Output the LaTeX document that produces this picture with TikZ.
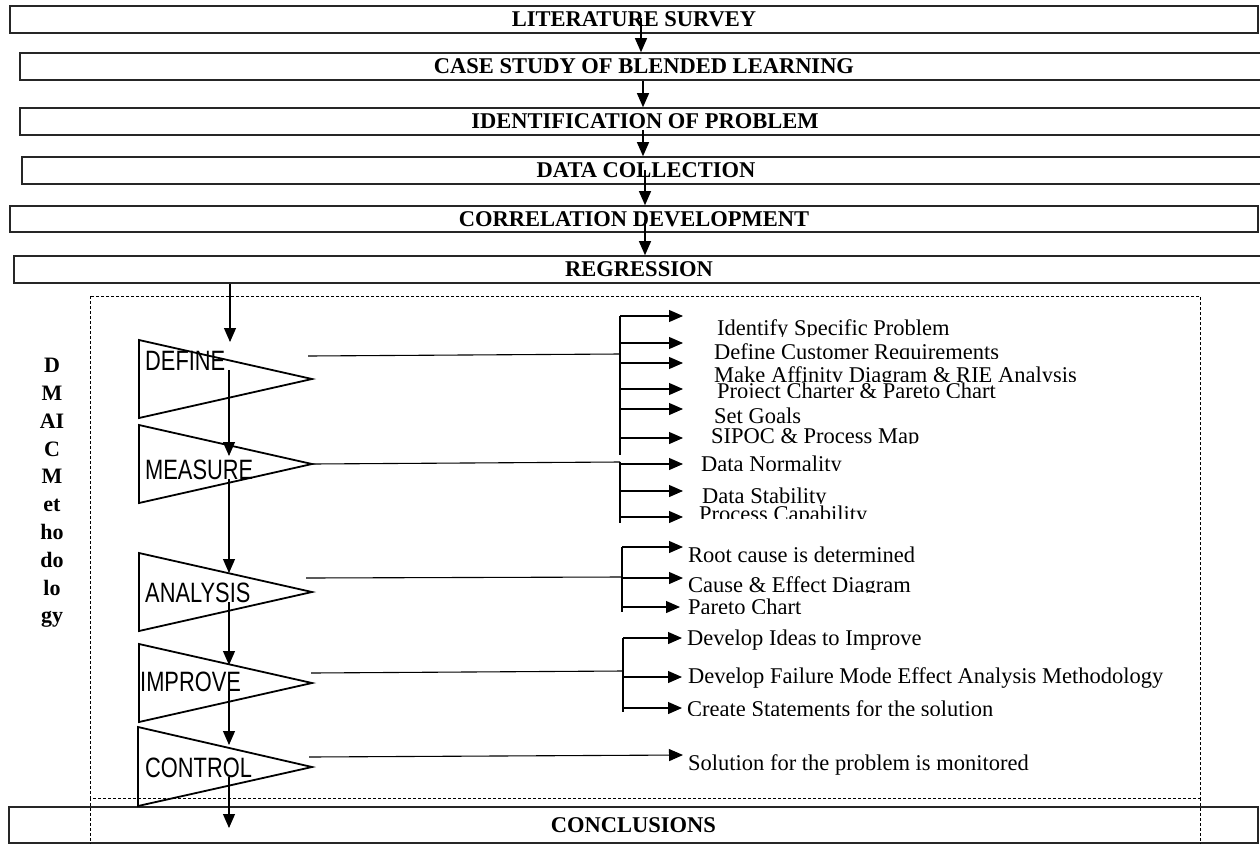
\documentclass[tikz,border=0pt]{standalone}
\usepackage{fontspec}
\setmainfont{Liberation Serif}
\newfontfamily\phasefont{Liberation Sans}
\usetikzlibrary{arrows.meta}
\newcommand{\phasetext}[1]{\scalebox{0.78}[1]{\fontsize{28}{28}\selectfont\phasefont #1}}
% item whose text box cuts it off at the bottom
\newcommand{\cutitem}[5]{\begin{scope}
    \clip (#2-6,#3-30) rectangle (1190,#4);
    \node[item] (#1) at (#2,#3) {#5};
  \end{scope}}

\begin{document}
\begin{tikzpicture}[x=1pt,y=-1pt,
    stagebox/.style={draw=black!85,line width=1.6pt,inner sep=0pt,minimum height=27pt,
      font=\fontsize{22.5}{24}\selectfont\bfseries},
    phase/.style={draw,line width=1.8pt},
    phasename/.style={anchor=base west,inner sep=0pt},
    flow/.style={line width=1.1pt,-{Triangle[length=14pt,width=12pt]}},
    link/.style={line width=1.1pt},
    item/.style={anchor=base west,inner sep=0pt,font=\fontsize{22.5}{24}\selectfont},
    zone/.style={line width=0.8pt,dash pattern=on 3pt off 2pt}]
    \useasboundingbox (0,0) rectangle (1260,844);
    % Stages
    \node[stagebox,minimum width=1248pt] (lit) at (634,19.5) {LITERATURE SURVEY};
    \node[stagebox,minimum width=1248pt] (case) at (644,66.5) {CASE STUDY OF BLENDED LEARNING};
    \node[stagebox,minimum width=1250pt] (ident) at (645,121.5) {IDENTIFICATION OF PROBLEM};
    \node[stagebox,minimum width=1248pt] (datacol) at (646,170.5) {DATA COLLECTION};
    \node[stagebox,minimum width=1248pt,minimum height=26pt] (corr) at (634,219) {CORRELATION DEVELOPMENT};
    \node[stagebox,minimum width=1250pt] (regr) at (639,269.5) {REGRESSION};
    \node[stagebox,minimum width=1249pt,minimum height=36pt] (concl) at (633.5,825) {CONCLUSIONS};
    % Flow between stages
    \coordinate (s1) at (641,18);
    \coordinate (s2) at (643,81);
    \coordinate (s3) at (643,130);
    \coordinate (s4) at (645,170);
    \coordinate (s5) at (645,220);
    \draw[flow] (s1) -- (case.north -| s1);
    \draw[flow] (s2) -- (ident.north -| s2);
    \draw[flow] (s3) -- (datacol.north -| s3);
    \draw[flow] (s4) -- (corr.north -| s4);
    \draw[flow] (s5) -- (regr.north -| s5);
    % DMAIC zone
    \draw[zone] (90,296) rectangle (1200,798);
    \draw[zone] (90,798) -- (90,844);
    \draw[zone] (1200,798) -- (1200,844);
    \node[font=\fontsize{22}{27.8}\selectfont\bfseries,align=center,inner sep=0pt,anchor=north]
      (dmaic) at (52,358) {D\\M\\AI\\C\\M\\et\\ho\\do\\lo\\gy};
    % Phases
    \draw[phase] (139,340) -- (312,379) -- (139,418) -- cycle;
    \draw[phase] (139,425) -- (312,464) -- (139,503) -- cycle;
    \draw[phase] (139,553) -- (312,592) -- (139,631) -- cycle;
    \draw[phase] (139,644) -- (312,683) -- (139,722) -- cycle;
    \draw[phase] (138,727) -- (312,767) -- (138,806) -- cycle;
    \node[phasename] (tdefine) at (145,370) {\phasetext{DEFINE}};
    \node[phasename] (tmeasure) at (145,479) {\phasetext{MEASURE}};
    \node[phasename] (tanalysis) at (145,602) {\phasetext{ANALYSIS}};
    \node[phasename] (timprove) at (140,691) {\phasetext{IMPROVE}};
    \node[phasename] (tcontrol) at (145,777) {\phasetext{CONTROL}};
    % Flow between phases
    \coordinate (v0) at (230,342);
    \coordinate (v1) at (229,456);
    \coordinate (v2) at (229,573);
    \coordinate (v3) at (229,665);
    \coordinate (v4) at (229,745);
    \coordinate (v5) at (229,828);
    \draw[flow] (regr.south -| v0) -- (v0);
    \draw[flow] (tdefine.south -| v1) -- (v1);
    \draw[flow] (tmeasure.south -| v2) -- (v2);
    \draw[flow] (tanalysis.south -| v3) -- (v3);
    \draw[flow] (timprove.south -| v4) -- (v4);
    \draw[flow] (tcontrol.south -| v5) -- (v5);
    % Define branch
    \coordinate (dout) at (308,356);
    \coordinate (djoin) at (620,354);
    \coordinate (dtop) at (620,316);
    \coordinate (dbot) at (620,455);
    \draw[link] (dout) -- (djoin);
    \draw[link] (dtop) -- (dbot);
    \coordinate (a1) at (683,316);
    \coordinate (a2) at (683,343);
    \coordinate (a3) at (683,363);
    \coordinate (a4) at (683,389);
    \coordinate (a5) at (683,409);
    \coordinate (a6) at (683,438);
    \foreach \p in {a1,a2,a3,a4,a5,a6} \draw[flow] (\p -| dtop) -- (\p);
    \cutitem{identify}{717}{335}{336}{Identify Specific Problem}
    \cutitem{custreq}{714}{359}{358}{Define Customer Requirements}
    \cutitem{affinity}{714}{382}{381}{Make Affinity Diagram \& RIE Analysis}
    \cutitem{charter}{717}{398}{397}{Project Charter \& Pareto Chart}
    \cutitem{goals}{714}{423}{425}{Set Goals}
    \cutitem{sipoc}{711}{443}{443}{SIPOC \& Process Map}
    % Measure branch
    \coordinate (mout) at (312,464);
    \coordinate (mjoin) at (620,462);
    \coordinate (mbot) at (620,523);
    \draw[link] (mout) -- (mjoin);
    \draw[link] (mjoin) -- (mbot);
    \coordinate (m1) at (683,464);
    \coordinate (m2) at (683,491);
    \coordinate (m3) at (683,517);
    \foreach \p in {m1,m2,m3} \draw[flow] (\p -| mjoin) -- (\p);
    \cutitem{normal}{701}{471}{470}{Data Normality}
    \cutitem{stable}{702}{503}{503}{Data Stability}
    \cutitem{capab}{699}{521}{518}{Process Capability}
    % Analysis branch
    \coordinate (nout) at (306,578);
    \coordinate (njoin) at (622,577);
    \coordinate (ntop) at (622,547);
    \coordinate (nbot) at (622,612);
    \draw[link] (nout) -- (njoin);
    \draw[link] (ntop) -- (nbot);
    \coordinate (n1) at (683,547);
    \coordinate (n2) at (683,578);
    \coordinate (n3) at (680,607);
    \foreach \p in {n1,n2,n3} \draw[flow] (\p -| ntop) -- (\p);
    \node[item] (rootcause) at (688,562) {Root cause is determined};
    \cutitem{fishbone}{688}{592}{592}{Cause \& Effect Diagram}
    \cutitem{pareto}{688}{614}{613}{Pareto Chart}
    % Improve branch
    \coordinate (pout) at (311,673);
    \coordinate (pjoin) at (623,671);
    \coordinate (ptop) at (623,638);
    \coordinate (pbot) at (623,712);
    \draw[link] (pout) -- (pjoin);
    \draw[link] (ptop) -- (pbot);
    \coordinate (p1) at (682,638);
    \coordinate (p2) at (682,677);
    \coordinate (p3) at (682,708);
    \foreach \p in {p1,p2,p3} \draw[flow] (\p -| ptop) -- (\p);
    \node[item] (ideas) at (687,645) {Develop Ideas to Improve};
    \node[item] (fmea) at (688,683) {Develop Failure Mode Effect Analysis Methodology};
    \cutitem{statements}{687}{716}{715}{Create Statements for the solution}
    % Control branch
    \coordinate (cout) at (309,757);
    \coordinate (c1) at (683,755);
    \draw[flow] (cout) -- (c1);
    \node[item] (monitor) at (688,770) {Solution for the problem is monitored};
\end{tikzpicture}
\end{document}
